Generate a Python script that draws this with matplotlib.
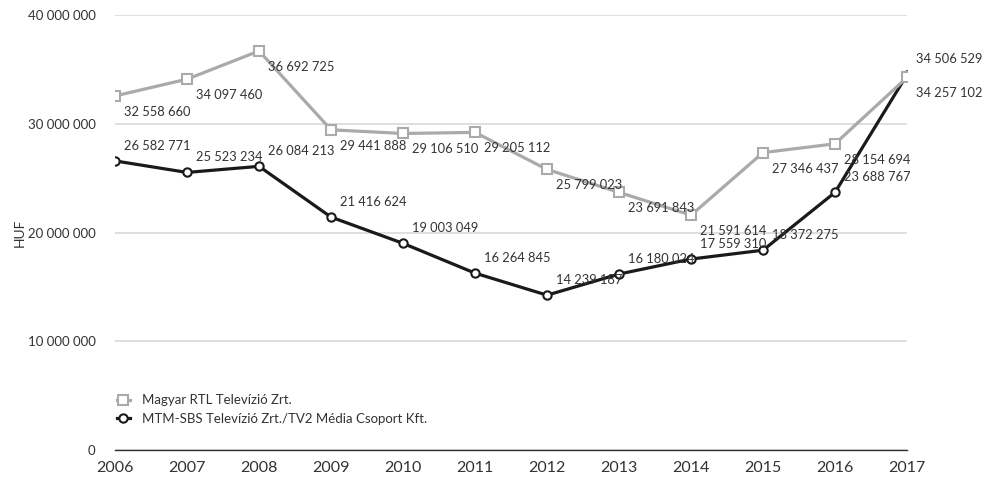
import matplotlib.pyplot as plt

years = list(range(2006, 2018))
rtl = [32558660, 34097460, 36692725, 29441888, 29106510, 29205112,
       25799023, 23691843, 21591614, 27346437, 28154694, 34257102]
tv2 = [26582771, 25523234, 26084213, 21416624, 19003049, 16264845,
       14239187, 16180024, 17559310, 18372275, 23688767, 34506529]
rtl_name = 'Magyar RTL Televízió Zrt.'
tv2_name = 'MTM-SBS Televízió Zrt./TV2 Média Csoport Kft.'

def fmt(v):
    return '{:,}'.format(v).replace(',', ' ')

plt.rcParams['font.family'] = ['Lato', 'DejaVu Sans']

fig = plt.figure(figsize=(9.85, 4.79), dpi=100)
ax = fig.add_axes([0.1168, 0.0605, 0.804, 0.9082])

txtcol = '#333333'
gray = '#aaaaaa'

ax.plot(years, rtl, color=gray, linewidth=2.3, marker='s', markersize=6.5,
        markerfacecolor='white', markeredgecolor=gray, markeredgewidth=1.5,
        label=rtl_name, zorder=4)
ax.plot(years, tv2, color='#1a1a1a', linewidth=2.3, marker='o', markersize=6,
        markerfacecolor='white', markeredgecolor='#1a1a1a', markeredgewidth=1.5,
        label=tv2_name, zorder=3)

for x, v in zip(years, rtl):
    ax.annotate(fmt(v), (x, v), xytext=(6.5, -11.5), textcoords='offset points',
                ha='left', va='center', fontsize=9.3, color=txtcol, zorder=5)
for x, v in zip(years, tv2):
    ax.annotate(fmt(v), (x, v), xytext=(6.5, 11), textcoords='offset points',
                ha='left', va='center', fontsize=9.3, color=txtcol, zorder=5)

yt = [0, 10000000, 20000000, 30000000, 40000000]
ax.set_xlim(2006, 2017)
ax.set_ylim(0, 40000000)
ax.set_xticks(years)
ax.set_yticks(yt)
ax.set_yticklabels([fmt(v) for v in yt])
ax.tick_params(axis='x', length=0, labelsize=11.5, colors=txtcol, pad=8)
ax.tick_params(axis='y', length=0, labelsize=9.5, colors=txtcol, pad=14)
ax.grid(axis='y', color='#d9d9d9', linewidth=1.2)
ax.set_axisbelow(True)
for s in ['top', 'right', 'left']:
    ax.spines[s].set_visible(False)
ax.spines['bottom'].set_color('#333333')
ax.spines['bottom'].set_linewidth(1)
ax.set_ylabel('HUF', fontsize=10, color=txtcol)
ax.yaxis.set_label_coords(-0.113, 0.5)

leg = ax.legend(loc='upper left', bbox_to_anchor=(0.002, 0.128), frameon=False,
                fontsize=9.5, handlelength=1.0, handletextpad=0.9, labelspacing=0.5,
                borderaxespad=0, borderpad=0)
for t in leg.get_texts():
    t.set_color(txtcol)

fig.savefig('out.png', dpi=100)
